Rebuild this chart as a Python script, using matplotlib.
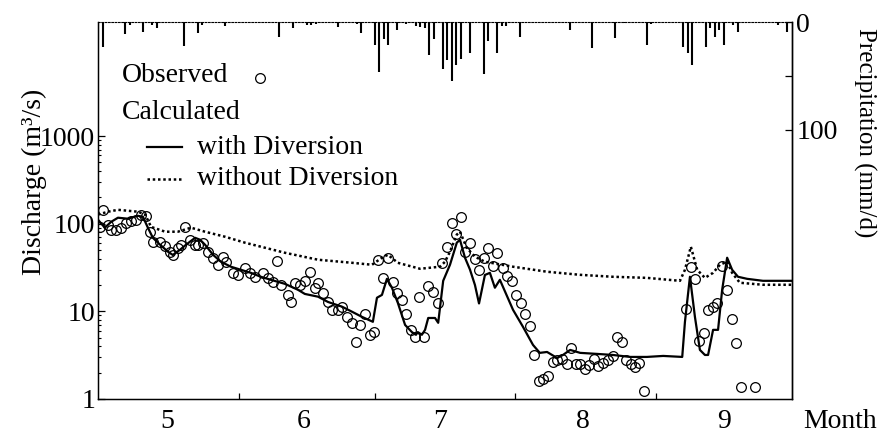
import matplotlib
matplotlib.use("Agg")
import matplotlib.pyplot as plt
from matplotlib.lines import Line2D
import numpy as np

plt.rcParams['font.family'] = ['Liberation Serif', 'DejaVu Serif']
plt.rcParams['font.size'] = 20

# x values are days counted from May 1
month_edges = [31, 61, 92, 123]
month_mids = [15.3, 45.3, 75.5, 107.0, 138.0]
month_labels = ['5', '6', '7', '8', '9']

# daily precipitation (mm/d)
rain_day = [0, 1, 6, 7, 10, 12, 13, 19, 22, 23, 28, 40, 43, 46, 47, 48, 53, 57, 58,
            61, 62, 63, 64, 66, 68, 70, 71, 72, 73, 74, 76, 77, 78, 79, 80, 82, 85,
            86, 88, 89, 90, 93, 104, 109, 114, 116, 121, 122, 129, 130, 131, 134,
            135, 136, 137, 138, 140, 141, 150, 151, 152]
rain_mm = [17, 23, 11, 3, 9, 3, 6, 22, 10, 3, 4, 14, 6, 3, 3, 2, 5, 2, 10,
           21, 46, 16, 21, 7, 2, 4, 5, 6, 31, 16, 44, 35, 55, 40, 34, 29, 48,
           18, 29, 4, 4, 14, 7, 24, 15, 1, 21, 2, 23, 29, 40, 23,
           6, 14, 7, 21, 3, 9, 3, 1, 9]

# observed discharge (m3/s)
obs_day = [0.4, 1.1, 2.2, 2.9, 4.0, 5.1, 6.2, 7.3, 8.4, 9.5, 10.6, 11.5, 12.1, 13.7,
           14.8, 15.9, 16.5, 17.6, 18.3, 19.2, 20.3, 21.4, 22.0, 23.1, 24.3, 25.4,
           26.5, 27.6, 28.2, 29.8, 30.9, 32.4, 33.5, 34.6, 36.4, 37.5, 38.6, 39.5,
           40.3, 41.9, 42.6, 43.4, 44.5, 45.6, 46.7, 47.8, 48.5, 49.6, 50.7, 51.6,
           52.9, 53.8, 54.9, 56.0, 56.9, 57.8, 58.9, 60.0, 60.9, 61.7, 62.8, 63.9,
           65.0, 65.9, 67.0, 67.9, 69.0, 69.9, 70.8, 71.9, 72.8, 73.9, 75.0, 75.8,
           76.9, 78.0, 78.9, 80.0, 80.9, 82.0, 83.1, 84.0, 85.1, 86.0, 87.1, 88.0,
           89.3, 90.2, 91.3, 92.2, 93.3, 94.1, 95.2, 96.1, 97.2, 98.1, 99.2, 100.3,
           101.2, 102.3, 103.4, 104.3, 105.4, 106.3, 107.4, 108.3, 109.4, 110.2,
           111.3, 112.4, 113.5, 114.4, 115.5, 116.4, 117.5, 118.4, 119.3, 120.4,
           129.6, 130.7, 131.6, 132.5, 133.6, 134.5, 135.6, 136.5, 137.6, 138.7,
           139.8, 140.7, 141.8, 144.8]
obs_q = [92, 144, 97, 85, 85, 90, 103, 108, 111, 127, 123, 81, 62, 62,
         55, 48, 44, 53, 57.5, 92, 66, 57.5, 57.5, 61, 47, 41,
         34, 42, 37, 27.5, 26, 31.4, 27.5, 24.8, 27.5, 24, 21.7, 37.8,
         20, 15.4, 12.8, 21, 20, 22.3, 28.3, 18.6, 21.2, 16.3, 12.8, 10.4,
         10.4, 11.3, 8.65, 7.4, 4.5, 7.0, 9.4, 5.4, 5.8, 38.8, 24, 41,
         21.7, 16.3, 13.5, 9.4, 6.15, 5.1, 14.7, 5.1, 19.6, 16.7, 12.5, 35.8,
         54.6, 102.6, 77, 120, 48, 61, 39.8, 29.8, 41, 53, 33, 46.6,
         31.4, 25.5, 22.3, 15.4, 12.5, 9.4, 6.8, 3.2, 1.61, 1.69, 1.83, 2.65,
         2.79, 2.87, 2.51, 3.83, 2.51, 2.51, 2.2, 2.45, 2.87, 2.38,
         2.58, 2.79, 3.1, 5.1, 4.5, 2.79, 2.51, 2.32, 2.58, 1.23,
         10.7, 32.3, 23.5, 4.6, 5.7, 10.4, 11.3, 12.5, 33, 17.6,
         8.2, 4.4, 1.37, 1.37]

# calculated discharge with diversion
with_day = [0, 1.5, 2.9, 4.4, 6.6, 8.8, 9.9, 11.0, 12.1, 13.7, 15.4, 16.5, 18.1,
            19.4, 21.4, 22.5, 23.6, 25.4, 27.1, 29.3, 31.5, 33.7, 35.9, 38.1,
            41.2, 44.1, 45.6, 48.5, 50.7, 53.8, 56.0, 58.2, 60.6, 61.5, 62.6,
            63.7, 64.8, 66.1, 67.7, 69.2, 70.1, 70.5, 71.4, 72.1, 72.8, 74.3,
            75.0, 76.1, 77.6, 79.1, 79.8, 80.9, 82.0, 83.1, 84.0, 85.3, 86.4,
            87.5, 88.6, 91.5, 93.7, 95.9, 97.4, 99.0, 101.2, 102.5, 104.1,
            106.3, 110.0, 113.5, 117.3, 121.0, 124.6, 128.8, 129.4, 130.5,
            131.6, 132.7, 133.8, 134.5, 135.6, 136.7, 137.6, 138.7, 139.8,
            141.1, 143.1, 146.6, 153.0]
with_q = [111, 90, 105, 117, 114, 123, 120, 90, 69, 57.5, 48, 44, 50.5,
          57.5, 69, 65.6, 57.5, 44, 36.8, 32.3, 29.8, 27.5, 24.8, 22.9,
          20.6, 17.6, 15.8, 14.7, 12.8, 11.3, 9.9, 8.65, 7.6, 14.3, 15.4,
          23.5, 18.6, 12.5, 7.0, 5.8, 5.4, 5.8, 5.4, 6.15, 8.4, 8.4,
          7.4, 22.3, 34, 60.7, 65.6, 41, 30, 20, 12.3, 26, 27.5,
          18.6, 22.9, 10.4, 6.65, 4.14, 3.36, 3.44, 2.94, 3.18, 3.63,
          3.36, 3.27, 3.18, 3.02, 3.02, 3.1, 3.02, 7.6, 24.8,
          8.65, 3.63, 3.18, 3.18, 6.15, 6.15, 17.6, 40.9, 29.8,
          24.8, 23.5, 22.3, 22.3]

# calculated discharge without diversion
without_day = [0, 2.2, 4.4, 8.8, 10.4, 11.7, 14.8, 17.6, 20.5, 23.6, 28.0, 32.4,
               36.8, 41.2, 48.5, 56.0, 60.4, 62.6, 63.9, 66.1, 71.0, 75.4, 76.5,
               77.6, 79.1, 79.8, 81.3, 83.1, 85.3, 91.5, 99.0, 106.3, 113.5,
               121.0, 128.3, 129.4, 130.7, 132.1, 133.8, 135.6, 137.1, 138.7,
               139.8, 141.5, 146.6, 153.0]
without_q = [127, 137, 144, 137, 127, 92, 81, 81, 90, 81, 71, 60.7,
             53.2, 46.6, 38.8, 35.8, 34, 40.9, 44.2, 35.8, 30.6, 32.3, 36.8,
             48, 75, 81, 53, 42, 36.8, 32.3, 28.3, 26.1, 24.8,
             24.1, 22.3, 29.8, 54.6, 29.8, 24.1, 27.5, 34, 36.8,
             27.5, 21.2, 20.1, 20.1]

fig = plt.figure(figsize=(8.82, 4.32), dpi=100)
ax = fig.add_axes([98 / 882, 1 - 399 / 432, 694 / 882, 377 / 432])

ax.plot(without_day, without_q, color='black', lw=1.8, ls=(0, (1, 1.1)), zorder=2)
ax.plot(with_day, with_q, color='black', lw=1.6, zorder=2)
ax.plot(obs_day, obs_q, ls='none', marker='o', ms=7, mfc='none',
        mec='black', mew=0.9, zorder=3)

ax.set_yscale('log')
ax.set_ylim(1, 20000)
ax.set_xlim(0, 153)
ax.set_yticks([1, 10, 100, 1000])
ax.set_yticklabels(['1', '10', '100', '1000'])
ax.set_yticks([m * 10 ** e for e in range(3) for m in range(2, 10)], minor=True)
ax.yaxis.set_minor_formatter(matplotlib.ticker.NullFormatter())
ax.tick_params(axis='y', which='major', direction='in', length=5, width=0.9, pad=2)
ax.tick_params(axis='y', which='minor', direction='in', length=2.5, width=0.8)

ax.set_xticks(month_edges)
ax.set_xticklabels([])
ax.set_xticks(month_mids, minor=True)
ax.set_xticklabels(month_labels, minor=True)
ax.tick_params(axis='x', which='major', direction='in', length=4, width=0.9)
ax.tick_params(axis='x', which='minor', length=0, pad=7)

for side in ['left', 'bottom', 'right']:
    ax.spines[side].set_linewidth(1.0)
ax.spines['top'].set_linestyle((0, (1.5, 1.5)))
ax.spines['top'].set_linewidth(0.8)

ax.set_ylabel('Discharge (m³/s)')
ax.yaxis.set_label_coords(-0.074, 0.575)

ax.annotate('Month', xy=(1.069, 0), xycoords='axes fraction',
            xytext=(0, -7), textcoords='offset points', ha='center', va='top')

# legend drawn by hand
ax.text(0.035, 0.859, 'Observed', transform=ax.transAxes, va='center', ha='left')
ax.add_line(Line2D([0.2334], [0.851], transform=ax.transAxes, ls='none',
                   marker='o', ms=7, mfc='none', mec='black', mew=0.9))
ax.text(0.035, 0.759, 'Calculated', transform=ax.transAxes, va='center', ha='left')
ax.add_line(Line2D([0.0706, 0.121], [0.668, 0.668], transform=ax.transAxes,
                   color='black', lw=1.6))
ax.text(0.1427, 0.668, 'with Diversion', transform=ax.transAxes, va='center', ha='left')
ax.add_line(Line2D([0.0706, 0.121], [0.584, 0.584], transform=ax.transAxes,
                   color='black', lw=1.8, ls=(0, (1, 1.1))))
ax.text(0.1427, 0.584, 'without Diversion', transform=ax.transAxes, va='center', ha='left')

# precipitation hanging from the top
ax2 = ax.twinx()
ax2.vlines(rain_day, 0, rain_mm, color='black', lw=1.5)
ax2.set_ylim(350, 0)
ax2.set_xlim(0, 153)
ax2.set_yticks([0, 100])
ax2.set_yticks([50], minor=True)
ax2.tick_params(axis='y', which='major', direction='in', length=5, width=0.9, pad=3)
ax2.tick_params(axis='y', which='minor', direction='in', length=5, width=0.9)
ax2.spines['top'].set_visible(False)
ax2.spines['right'].set_linewidth(1.0)
ax2.set_ylabel('Precipitation (mm/d)', rotation=270, va='center', fontsize=18)
ax2.yaxis.set_label_coords(1.105, 0.706)

fig.savefig('out.png', dpi=100)
